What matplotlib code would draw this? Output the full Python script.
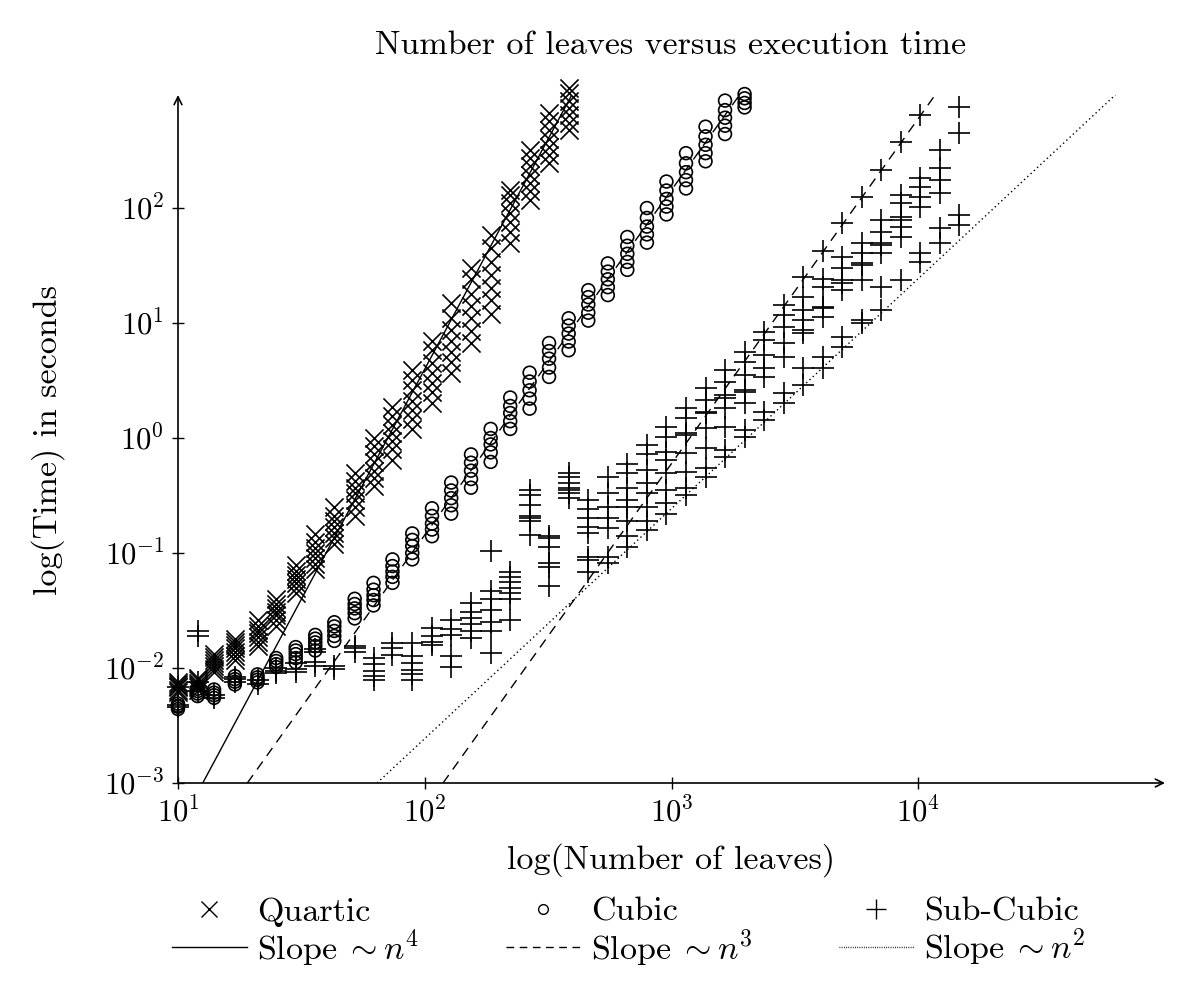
import matplotlib
matplotlib.use("Agg")
import matplotlib.pyplot as plt
from matplotlib.lines import Line2D
from matplotlib.ticker import NullLocator

plt.rcParams['font.family'] = 'serif'
plt.rcParams['font.serif'] = ['cmr10']
plt.rcParams['mathtext.fontset'] = 'cm'
plt.rcParams['axes.formatter.use_mathtext'] = True
plt.rcParams['axes.unicode_minus'] = False

# ---- data -------------------------------------------------------------
n_values = [10, 12, 14, 17, 21, 25, 30, 36, 43, 52, 62, 74, 89, 107, 128,
            154, 185, 222, 266, 319, 383, 460, 552, 662, 795, 954, 1145,
            1374, 1648, 1978, 2373, 2848, 3418, 4101, 4921, 5906, 7087,
            8504, 10205, 12246, 14695]

quartic_t = [
    [0.0062, 0.0065, 0.0068, 0.0070, 0.0072, 0.0075],
    [0.0065, 0.0068, 0.0071, 0.0074, 0.0078, 0.0082],
    [0.0092, 0.0098, 0.0104, 0.0110, 0.0118, 0.0125, 0.0132],
    [0.0118, 0.0128, 0.0138, 0.0148, 0.0158, 0.0170, 0.0180],
    [0.0155, 0.0168, 0.0185, 0.0200, 0.0215, 0.0230, 0.0260],
    [0.023, 0.026, 0.029, 0.031, 0.033, 0.036, 0.040],
    [0.045, 0.050, 0.055, 0.060, 0.064, 0.070, 0.078],
    [0.072, 0.080, 0.090, 0.100, 0.110, 0.125, 0.145],
    [0.12, 0.135, 0.15, 0.17, 0.19, 0.21, 0.25],
    [0.21, 0.25, 0.29, 0.33, 0.37, 0.42, 0.50],
    [0.38, 0.45, 0.52, 0.62, 0.72, 0.85, 1.0],
    [0.65, 0.80, 0.95, 1.1, 1.3, 1.55, 1.85],
    [1.2, 1.45, 1.75, 2.1, 2.6, 3.2, 3.9],
    [2.0, 2.5, 3.0, 3.7, 4.5, 5.8, 7.0],
    [3.7, 4.6, 5.6, 7.0, 8.7, 11, 15],
    [6.7, 8.5, 11, 14, 18, 24, 30],
    [12, 16, 20, 26, 34, 45, 58],
    [50, 62, 75, 90, 110, 130, 143],
    [118, 140, 165, 195, 230, 275, 320],
    [245, 290, 340, 400, 480, 570, 670],
    [475, 550, 640, 740, 860, 1000, 1100],
]

cubic_t = [
    [0.0044, 0.0046, 0.0047, 0.0049],
    [0.0057, 0.0060, 0.0063, 0.0066],
    [0.0055, 0.0058, 0.0061, 0.0065],
    [0.0072, 0.0076, 0.0080, 0.0085],
    [0.0075, 0.0079, 0.0083, 0.0088],
    [0.0102, 0.0108, 0.0115, 0.0122],
    [0.0112, 0.0122, 0.0132, 0.0142, 0.0152],
    [0.0142, 0.0155, 0.0167, 0.0180, 0.0194],
    [0.0172, 0.019, 0.021, 0.023, 0.025],
    [0.027, 0.030, 0.033, 0.036, 0.040],
    [0.035, 0.039, 0.043, 0.048, 0.055],
    [0.055, 0.062, 0.069, 0.077, 0.088],
    [0.088, 0.10, 0.115, 0.13, 0.148],
    [0.14, 0.16, 0.18, 0.21, 0.245],
    [0.22, 0.26, 0.30, 0.35, 0.41],
    [0.37, 0.44, 0.52, 0.61, 0.72],
    [0.62, 0.75, 0.88, 1.0, 1.2],
    [1.2, 1.4, 1.65, 1.9, 2.25],
    [1.8, 2.2, 2.6, 3.1, 3.7],
    [3.4, 4.1, 4.9, 5.7, 6.7],
    [5.8, 6.9, 8.1, 9.5, 11],
    [10.5, 12.3, 14.5, 16.8, 19.3],
    [17.5, 20.5, 24, 28, 33],
    [29, 34, 40, 47, 56],
    [50, 59, 69, 82, 100],
    [88, 103, 120, 142, 170],
    [148, 175, 205, 245, 300],
    [255, 300, 355, 420, 510],
    [440, 520, 610, 710, 860],
    [750, 820, 900, 980],
]

subcubic_t = [
    [0.0046, 0.0048, 0.0068],
    [0.021, 0.019, 0.0075, 0.0063],
    [0.0055, 0.0058],
    [0.0075, 0.0080, 0.0083],
    [0.0073, 0.0078],
    [0.0090, 0.0095, 0.0100],
    [0.0093, 0.0098, 0.0110],
    [0.0105, 0.0112, 0.0138, 0.0145],
    [0.0098, 0.0105],
    [0.0138, 0.0150, 0.0155],
    [0.0078, 0.0086, 0.0094, 0.0108, 0.0122],
    [0.013, 0.0148, 0.0165],
    [0.0078, 0.0088, 0.0096, 0.0111, 0.0126, 0.0165],
    [0.0158, 0.017, 0.019, 0.0225],
    [0.0102, 0.0128, 0.0195, 0.022, 0.026],
    [0.0183, 0.021, 0.024, 0.027, 0.031, 0.037],
    [0.0136, 0.021, 0.025, 0.032, 0.040, 0.047, 0.104],
    [0.026, 0.040, 0.045, 0.050, 0.056, 0.062, 0.068],
    [0.144, 0.19, 0.20, 0.21, 0.26, 0.32, 0.35],
    [0.052, 0.075, 0.082, 0.113, 0.135, 0.14],
    [0.30, 0.33, 0.35, 0.37, 0.41, 0.46, 0.50],
    [0.068, 0.087, 0.092, 0.15, 0.17, 0.20, 0.24, 0.29],
    [0.082, 0.092, 0.165, 0.20, 0.25, 0.33, 0.46],
    [0.113, 0.14, 0.19, 0.25, 0.29, 0.37, 0.5, 0.6],
    [0.16, 0.19, 0.25, 0.33, 0.41, 0.53, 0.72, 0.87],
    [0.22, 0.27, 0.35, 0.5, 0.64, 0.76, 1.02, 1.25],
    [0.32, 0.37, 0.51, 0.74, 1.06, 1.1, 1.49, 1.82],
    [0.46, 0.55, 0.82, 1.22, 1.65, 1.68, 2.14, 2.72],
    [0.68, 0.79, 1.25, 1.82, 2.23, 2.37, 3.07, 3.9],
    [1.02, 1.17, 2.0, 2.5, 2.6, 3.5, 4.6, 5.6],
    [1.44, 1.68, 3.4, 4.1, 5.3, 7.1, 8.4],
    [2.01, 2.46, 5.1, 6.7, 9.2, 11.7, 14.4],
    [2.9, 4.1, 8.2, 8.7, 10.6, 13, 17, 25],
    [4.1, 5.1, 11.3, 13.5, 13.8, 20.5, 24, 42],
    [6.2, 7.6, 19.4, 22.3, 23.7, 30, 37.5, 74],
    [10, 10.6, 23.7, 32, 33, 40.6, 50, 125],
    [13, 20.5, 40.6, 48, 50, 62, 79, 214],
    [23.7, 56, 68, 79, 84, 110, 130, 375],
    [34, 40.6, 102, 125, 152, 182, 645],
    [50, 67, 135, 175, 223, 320],
    [71, 87, 449, 755],
]

# reference slope lines: end points (n, time)
slope4_n = [12.6, 398]
slope4_t = [1e-3, 1e3]
slope3a_n = [19.1, 1910]
slope3a_t = [1e-3, 1e3]
slope3b_n = [118.6, 11860]
slope3b_t = [1e-3, 1e3]
slope2_n = [64.1, 64100]
slope2_t = [1e-3, 1e3]

title = "Number of leaves versus execution time"
xlabel = "log(Number of leaves)"
ylabel = "log(Time) in seconds"


def flatten(ns, ts):
    xs, ys = [], []
    for n, col in zip(ns, ts):
        for t in col:
            xs.append(n)
            ys.append(t)
    return xs, ys


qx, qy = flatten(n_values[:len(quartic_t)], quartic_t)
cx, cy = flatten(n_values[:len(cubic_t)], cubic_t)
sx, sy = flatten(n_values[:len(subcubic_t)], subcubic_t)

# ---- figure ----------------------------------------------------------
W, H = 1200, 1002
fig = plt.figure(figsize=(W / 100, H / 100), dpi=100)
ax = fig.add_axes([178 / W, 1 - 783 / H, (1165 - 178) / W, (783 - 95) / H])
ax.set_xscale('log')
ax.set_yscale('log')
ax.set_xlim(10, 1e5)
ax.set_ylim(1e-3, 10 ** 2.983)

lw = 1.2
ax.plot(slope4_n, slope4_t, color='black', lw=1.0, ls='-')
ax.plot(slope3a_n, slope3a_t, color='black', lw=1.0, dashes=(7, 5))
ax.plot(slope3b_n, slope3b_t, color='black', lw=1.0, dashes=(7, 5))
ax.plot(slope2_n, slope2_t, color='black', lw=1.0, dashes=(1, 2.2))

ax.scatter(qx, qy, marker='x', s=170, c='black', linewidths=lw, clip_on=False, zorder=3)
ax.scatter(cx, cy, marker='o', s=85, facecolors='none', edgecolors='black', linewidths=lw,
           clip_on=False, zorder=3)
ax.scatter(sx, sy, marker='+', s=260, c='black', linewidths=lw, clip_on=False, zorder=3)

for sp in ['top', 'right', 'left', 'bottom']:
    ax.spines[sp].set_visible(False)

arrow = dict(arrowstyle='->', lw=1.2, color='black', shrinkA=0, shrinkB=0,
             mutation_scale=14)
ax.annotate('', xy=(1, 0), xytext=(0, 0), xycoords='axes fraction',
            textcoords='axes fraction', arrowprops=arrow, annotation_clip=False)
ax.annotate('', xy=(0, 1), xytext=(0, 0), xycoords='axes fraction',
            textcoords='axes fraction', arrowprops=arrow, annotation_clip=False)

ax.set_xticks([10, 100, 1000, 10000])
ax.set_yticks([1e-3, 1e-2, 1e-1, 1, 10, 100])
ax.xaxis.set_minor_locator(NullLocator())
ax.yaxis.set_minor_locator(NullLocator())
ax.tick_params(direction='inout', length=8, width=1.0, labelsize=22, pad=6)

fs = 24.5
fig.text(671 / W, 1 - 45 / H, title, ha='center', va='center', fontsize=fs)
fig.text(671 / W, 1 - 860 / H, xlabel, ha='center', va='center', fontsize=fs)
fig.text(48 / W, 1 - 440 / H, ylabel, ha='center', va='center', fontsize=fs, rotation=90)

handles = [
    Line2D([], [], ls='none', marker='x', ms=11, mew=1.0, color='black'),
    Line2D([], [], ls='-', lw=1.0, color='black'),
    Line2D([], [], ls='none', marker='o', ms=7, mew=1.0, mfc='none', color='black'),
    Line2D([], [], lw=1.0, color='black', dashes=(5.5, 4)),
    Line2D([], [], ls='none', marker='+', ms=15, mew=1.0, color='black'),
    Line2D([], [], lw=1.0, color='black', dashes=(0.6, 1.0)),
]
labels = ['Quartic', r'Slope$\;\sim n^4$', 'Cubic', r'Slope$\;\sim n^3$',
          'Sub-Cubic', r'Slope$\;\sim n^2$']
fig.legend(handles, labels, ncol=3, frameon=False, fontsize=fs,
           loc='upper left', bbox_to_anchor=(172 / W, 1 - 897 / H),
           handlelength=2.2, handletextpad=0.3, columnspacing=2.55,
           labelspacing=0.0, borderaxespad=0, borderpad=0)

fig.savefig('out.png', dpi=100)
